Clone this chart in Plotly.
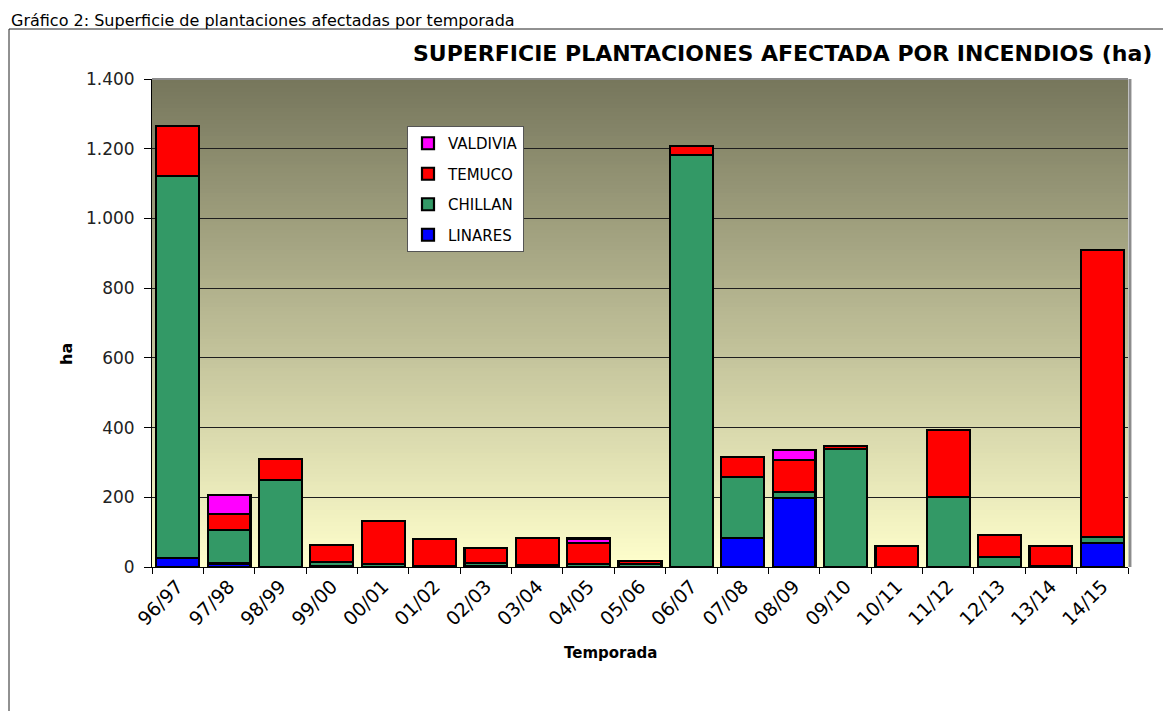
import plotly.graph_objects as go

# ---------------- data ----------------
temporadas = ["96/97", "97/98", "98/99", "99/00", "00/01", "01/02", "02/03", "03/04",
              "04/05", "05/06", "06/07", "07/08", "08/09", "09/10", "10/11", "11/12",
              "12/13", "13/14", "14/15"]
linares = [25, 10, None, 2, None, None, 3, 2, None, None, None, 83, 198, None, None, None, None, None, 68]
chillan = [1097, 96, 250, 12, 8, 2, 8, 4, 8, 8, 1182, 175, 17, 338, None, 200, 28, 2, 18]
temuco = [143, 46, 60, 48, 125, 78, 44, 77, 62, 9, 26, 58, 92, 8, 60, 193, 64, 58, 823]
valdivia = [None, 55, None, None, None, None, None, None, 12, None, None, None, 29, None, None, None, None, None, None]

y_tickvals = [0, 200, 400, 600, 800, 1000, 1200, 1400]
y_ticktext = ["0", "200", "400", "600", "800", "1.000", "1.200", "1.400"]

series = [("LINARES", linares, "#0000ff"),
          ("CHILLAN", chillan, "#339966"),
          ("TEMUCO", temuco, "#ff0000"),
          ("VALDIVIA", valdivia, "#ff00ff")]

# ---------------- layout geometry ----------------
OFF = 8  # page body margin
W, H = 1171, 711
PW, PH = 976, 488
L = 152 - OFF
T = 79 - OFF
R = W - L - PW
B = H - T - PH


def px_x(x):  # screen px -> paper
    return (x - OFF - L) / PW


def px_y(y):
    return (T + PH - (y - OFF)) / PH


FONT = "DejaVu Sans, Verdana, sans-serif"

fig = go.Figure()
n = len(series)
for i, (name, vals, col) in enumerate(series):
    fig.add_trace(go.Bar(
        x=temporadas, y=vals, name=name, legendgroup=name, legendrank=n - i,
        marker=dict(color=col, line=dict(color="black", width=2.2)),
    ))

# gradient background of plot area (styling bands)
shapes = []
nb = 120
top_c = (118, 118, 92)
bot_c = (255, 255, 204)
for i in range(nb):
    f = (i + 0.5) / nb  # 0 at bottom, 1 at top
    c = tuple(int(round(bot_c[k] + (top_c[k] - bot_c[k]) * f)) for k in range(3))
    shapes.append(dict(type="rect", xref="paper", yref="paper",
                       x0=0, x1=1, y0=i / nb, y1=(i + 1) / nb + 0.002,
                       fillcolor="rgb(%d,%d,%d)" % c, line=dict(width=0), layer="below"))
# plot-area gray border (top and right)
shapes.append(dict(type="line", xref="paper", yref="paper", x0=0, x1=1, y0=1, y1=1,
                   line=dict(color="#8c8c8c", width=2)))
shapes.append(dict(type="line", xref="paper", yref="paper", x0=1.002, x1=1.002, y0=0, y1=1,
                   line=dict(color="#8c8c8c", width=3)))
# outer chart frame
shapes.append(dict(type="rect", xref="paper", yref="paper",
                   x0=px_x(9), x1=px_x(1200), y0=px_y(740), y1=px_y(29),
                   line=dict(color="#222222", width=1), fillcolor="rgba(0,0,0,0)", layer="below"))

annotations = [
    dict(text="Gráfico 2: Superficie de plantaciones afectadas por temporada",
         xref="paper", yref="paper", x=px_x(9), y=px_y(9), xanchor="left", yanchor="top",
         showarrow=False, font=dict(family=FONT, size=16, color="black")),
    dict(text="<b>SUPERFICIE PLANTACIONES AFECTADA POR INCENDIOS (ha)</b>",
         xref="paper", yref="paper", x=px_x(1154), y=px_y(53), xanchor="right", yanchor="middle",
         showarrow=False, font=dict(family=FONT, size=22, color="black")),
    dict(text="<b>ha</b>", xref="paper", yref="paper", x=px_x(66), y=px_y(354),
         xanchor="center", yanchor="middle", textangle=-90, showarrow=False,
         font=dict(family=FONT, size=16, color="black")),
    dict(text="<b>Temporada</b>", xref="paper", yref="paper", x=px_x(610), y=px_y(653),
         xanchor="center", yanchor="middle", showarrow=False,
         font=dict(family=FONT, size=15, color="black")),
]

fig.update_layout(
    width=W, height=H,
    margin=dict(l=L, r=R, t=T, b=B, autoexpand=False),
    paper_bgcolor="white",
    plot_bgcolor="rgba(0,0,0,0)",
    barmode="stack",
    bargap=0.165,
    font=dict(family=FONT, color="black"),
    shapes=shapes,
    annotations=annotations,
    showlegend=True,
    legend=dict(
        x=px_x(407), y=px_y(126), xanchor="left", yanchor="top",
        bgcolor="white", bordercolor="#555555", borderwidth=1,
        font=dict(family=FONT, size=15, color="black"),
        traceorder="grouped", tracegroupgap=8, itemwidth=30,
    ),
    xaxis=dict(
        type="category", showgrid=False, showline=True, linecolor="black", linewidth=1,
        ticks="outside", tickson="boundaries", ticklen=6, tickcolor="black",
        tickangle=-45, tickfont=dict(family=FONT, size=19, color="black"),
        range=[-0.5, len(temporadas) - 0.5],
    ),
    yaxis=dict(
        range=[0, 1400], tickvals=y_tickvals, ticktext=y_ticktext,
        showgrid=True, gridcolor="#1e1e1e", gridwidth=1,
        showline=True, linecolor="black", linewidth=1,
        ticks="outside", ticklen=7, tickcolor="black", ticklabelstandoff=6,
        tickfont=dict(family=FONT, size=17, color="#222222"),
        zeroline=False,
    ),
)

fig.write_html("out.html")
